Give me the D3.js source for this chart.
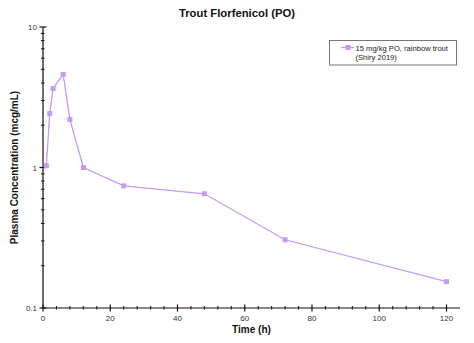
<!DOCTYPE html>
<html>
<head>
<meta charset="utf-8">
<script src="https://cdn.jsdelivr.net/npm/d3@7"></script>
<style>
  html, body { margin: 0; padding: 0; background: #fff; }
  svg { display: block; font-family: "Liberation Sans", Arial, sans-serif; }
</style>
</head>
<body>
<svg id="chart" width="474" height="343"></svg>
<script>
// Florfenicol plasma concentrations after a single oral dose
const times = [1, 2, 3, 6, 8, 12, 24, 48, 72, 120];
const concentrations = [1.03, 2.42, 3.65, 4.6, 2.2, 1.0, 0.74, 0.65, 0.306, 0.154];
const xTicks = [0, 20, 40, 60, 80, 100, 120];
const yTicks = [0.1, 1, 10];
const yTickLabels = ["0.1", "1", "10"];
const seriesName = ["15 mg/kg PO, rainbow trout", "(Shiry 2019)"];

const svg = d3.select("#chart");
const color = "#c39bf2";
const plotLeft = 43, plotTop = 27, plotBottom = 308;

const x = d3.scaleLinear().domain([0, 124]).range([plotLeft, plotLeft + (446.5 - plotLeft) * 124 / 120]);
const y = d3.scaleLog().domain([0.1, 10]).range([plotBottom, plotTop]);

// Title
svg.append("text").attr("x", 237).attr("y", 16.5).attr("text-anchor", "middle")
  .attr("font-size", 11.3).attr("font-weight", "bold").attr("fill", "#111")
  .text("Trout Florfenicol (PO)");

// X axis
const xAxis = svg.append("g").attr("transform", `translate(0,${plotBottom})`);
xAxis.append("line").attr("x1", plotLeft).attr("x2", x(124)).attr("stroke", "#111").attr("stroke-width", 1.2);
const minorX = d3.range(4, 124, 4).filter(v => v % 20 !== 0);
xAxis.selectAll(".mx").data(minorX).join("line")
  .attr("x1", d => x(d)).attr("x2", d => x(d)).attr("y1", -2).attr("y2", 1.5)
  .attr("stroke", "#111").attr("stroke-width", 1);
xAxis.selectAll(".Mx").data(xTicks).join("line")
  .attr("x1", d => x(d)).attr("x2", d => x(d)).attr("y1", -3.5).attr("y2", 3.5)
  .attr("stroke", "#111").attr("stroke-width", 1.2);
xAxis.selectAll("text").data(xTicks).join("text")
  .attr("x", d => x(d)).attr("y", 12.5).attr("text-anchor", "middle")
  .attr("font-size", 8).attr("fill", "#333").text(d => d);

svg.append("text").attr("x", (plotLeft + x(124)) / 2).attr("y", 333).attr("text-anchor", "middle")
  .attr("font-size", 10).attr("font-weight", "bold").attr("fill", "#111").text("Time (h)");

// Y axis (log)
const yAxis = svg.append("g").attr("transform", `translate(${plotLeft},0)`);
yAxis.append("line").attr("y1", plotTop).attr("y2", plotBottom).attr("stroke", "#111").attr("stroke-width", 1.2);
const minorY = [];
[0.1, 1].forEach(d => { for (let k = 2; k <= 9; k++) minorY.push(d * k); });
yAxis.selectAll(".my").data(minorY).join("line")
  .attr("x1", -2).attr("x2", 1.5).attr("y1", d => y(d)).attr("y2", d => y(d))
  .attr("stroke", "#111").attr("stroke-width", 1);
yAxis.selectAll(".My").data(yTicks).join("line")
  .attr("x1", -3.5).attr("x2", 3.5).attr("y1", d => y(d)).attr("y2", d => y(d))
  .attr("stroke", "#111").attr("stroke-width", 1.2);
yAxis.selectAll("text").data(yTicks).join("text")
  .attr("x", -6).attr("y", d => y(d) + 3).attr("text-anchor", "end")
  .attr("font-size", 8).attr("fill", "#333").text((d, i) => yTickLabels[i]);

svg.append("text").attr("transform", `translate(18,${(plotTop + plotBottom) / 2}) rotate(-90)`)
  .attr("text-anchor", "middle").attr("font-size", 10).attr("font-weight", "bold").attr("fill", "#111")
  .text("Plasma Concentration (mcg/mL)");

// Series
const data = times.map((t, i) => ({ t, c: concentrations[i] }));
svg.append("path").datum(data)
  .attr("d", d3.line().x(d => x(d.t)).y(d => y(d.c)))
  .attr("fill", "none").attr("stroke", color).attr("stroke-width", 1.3);
svg.selectAll(".pt").data(data).join("rect")
  .attr("x", d => x(d.t) - 2.5).attr("y", d => y(d.c) - 2.5)
  .attr("width", 5).attr("height", 5).attr("fill", color);

// Legend
const lg = svg.append("g");
lg.append("rect").attr("x", 329.5).attr("y", 40.5).attr("width", 127).attr("height", 24.5)
  .attr("fill", "#fff").attr("stroke", "#777").attr("stroke-width", 1);
lg.append("line").attr("x1", 341).attr("x2", 354).attr("y1", 47.5).attr("y2", 47.5)
  .attr("stroke", color).attr("stroke-width", 1.3);
lg.append("rect").attr("x", 345.5).attr("y", 45).attr("width", 5).attr("height", 5).attr("fill", color);
lg.selectAll("text").data(seriesName).join("text")
  .attr("x", 355.5).attr("y", (d, i) => 50.5 + i * 9).attr("font-size", 7.6).attr("fill", "#222")
  .text(d => d);
</script>
</body>
</html>
